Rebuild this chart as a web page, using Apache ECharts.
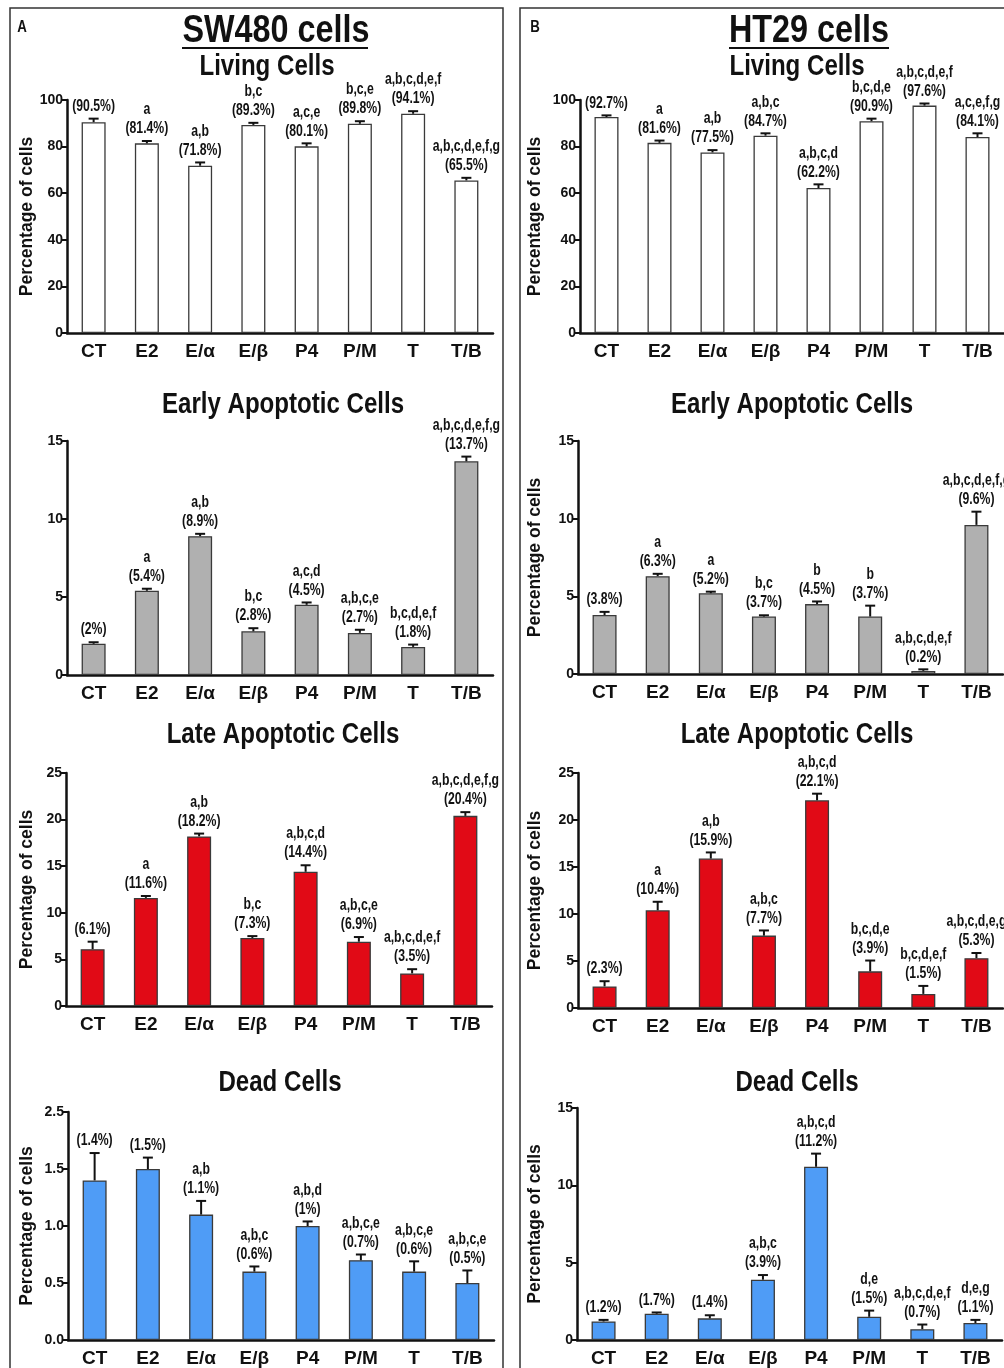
<!DOCTYPE html>
<html><head><meta charset="utf-8">
<script src="https://cdn.jsdelivr.net/npm/echarts@6/dist/echarts.min.js"></script>
<style>html,body{margin:0;padding:0;background:#fff}#c{width:1004px;height:1368px}</style>
</head><body><div id="c"></div>
<script>
const categories = ['CT', 'E2', 'E/α', 'E/β', 'P4', 'P/M', 'T', 'T/B'];

// Panel A: SW480 cells
const swLivingMean = [90.5, 81.4, 71.8, 89.3, 80.1, 89.8, 94.1, 65.5];
const swLivingErr  = [1.5, 1.0, 1.4, 0.9, 1.3, 1.1, 1.1, 1.1];
const swLivingSig  = ['', 'a', 'a,b', 'b,c', 'a,c,e', 'b,c,e', 'a,b,c,d,e,f', 'a,b,c,d,e,f,g'];

const swEarlyMean = [2, 5.4, 8.9, 2.8, 4.5, 2.7, 1.8, 13.7];
const swEarlyErr  = [0.1, 0.13, 0.15, 0.2, 0.15, 0.2, 0.15, 0.3];
const swEarlySig  = ['', 'a', 'a,b', 'b,c', 'a,c,d', 'a,b,c,e', 'b,c,d,e,f', 'a,b,c,d,e,f,g'];

const swLateMean = [6.1, 11.6, 18.2, 7.3, 14.4, 6.9, 3.5, 20.4];
const swLateErr  = [0.8, 0.2, 0.3, 0.2, 0.7, 0.5, 0.45, 0.4];
const swLateSig  = ['', 'a', 'a,b', 'b,c', 'a,b,c,d', 'a,b,c,e', 'a,b,c,d,e,f', 'a,b,c,d,e,f,g'];

const swDeadMean = [1.4, 1.5, 1.1, 0.6, 1.0, 0.7, 0.6, 0.5];
const swDeadErr  = [0.24, 0.1, 0.12, 0.045, 0.04, 0.05, 0.09, 0.11];
const swDeadSig  = ['', '', 'a,b', 'a,b,c', 'a,b,d', 'a,b,c,e', 'a,b,c,e', 'a,b,c,e'];

// Panel B: HT29 cells
const htLivingMean = [92.7, 81.6, 77.5, 84.7, 62.2, 90.9, 97.6, 84.1];
const htLivingErr  = [0.7, 1.0, 1.0, 1.0, 1.6, 1.1, 0.9, 1.6];
const htLivingSig  = ['', 'a', 'a,b', 'a,b,c', 'a,b,c,d', 'b,c,d,e', 'a,b,c,d,e,f', 'a,c,e,f,g'];

const htEarlyMean = [3.8, 6.3, 5.2, 3.7, 4.5, 3.7, 0.2, 9.6];
const htEarlyErr  = [0.2, 0.15, 0.1, 0.08, 0.17, 0.7, 0.1, 0.85];
const htEarlySig  = ['', 'a', 'a', 'b,c', 'b', 'b', 'a,b,c,d,e,f', 'a,b,c,d,e,f,g'];

const htLateMean = [2.3, 10.4, 15.9, 7.7, 22.1, 3.9, 1.5, 5.3];
const htLateErr  = [0.55, 0.9, 0.65, 0.55, 0.7, 1.15, 0.85, 0.55];
const htLateSig  = ['', 'a', 'a,b', 'a,b,c', 'a,b,c,d', 'b,c,d,e', 'b,c,d,e,f', 'a,b,c,d,e,g'];

const htDeadMean = [1.2, 1.7, 1.4, 3.9, 11.2, 1.5, 0.7, 1.1];
const htDeadErr  = [0.1, 0.08, 0.2, 0.3, 0.85, 0.4, 0.3, 0.2];
const htDeadSig  = ['', '', '', 'a,b,c', 'a,b,c,d', 'd,e', 'a,b,c,d,e,f', 'd,e,g'];

// Tick labels
const livingTicks = ['0', '20', '40', '60', '80', '100'];
const fifteenTicks = ['0', '5', '10', '15'];
const lateTicks = ['0', '5', '10', '15', '20', '25'];
const swDeadTicks = ['0.0', '0.5', '1.0', '1.5', '2.5'];

const FONT = '"Liberation Sans", Arial, Helvetica, sans-serif';
const INK = '#111';
const SQUEEZE = 0.83;
const NOTE_SQUEEZE = 0.72;

const panels = [
  {mean: swLivingMean, err: swLivingErr, sig: swLivingSig, ticks: livingTicks, max: 100, interval: 20,
   color: '#ffffff', grid: {left: 67, top: 100, width: 426, height: 233}, name: 'Percentage of cells', gap: 31},
  {mean: swEarlyMean, err: swEarlyErr, sig: swEarlySig, ticks: fifteenTicks, max: 15, interval: 5,
   color: '#b0b0b0', grid: {left: 67, top: 441, width: 426, height: 234}, name: '', gap: 31},
  {mean: swLateMean, err: swLateErr, sig: swLateSig, ticks: lateTicks, max: 25, interval: 5,
   color: '#e10a16', grid: {left: 66, top: 773, width: 426, height: 233}, name: 'Percentage of cells', gap: 30},
  {mean: swDeadMean, err: swDeadErr, sig: swDeadSig, ticks: swDeadTicks, max: 2, interval: 0.5,
   color: '#4f9cf6', grid: {left: 68, top: 1112, width: 426, height: 232}, name: 'Percentage of cells', gap: 32},
  {mean: htLivingMean, err: htLivingErr, sig: htLivingSig, ticks: livingTicks, max: 100, interval: 20,
   color: '#ffffff', grid: {left: 580, top: 100, width: 425, height: 233}, name: 'Percentage of cells', gap: 36},
  {mean: htEarlyMean, err: htEarlyErr, sig: htEarlySig, ticks: fifteenTicks, max: 15, interval: 5,
   color: '#b0b0b0', grid: {left: 578, top: 441, width: 425, height: 233}, name: 'Percentage of cells', gap: 34},
  {mean: htLateMean, err: htLateErr, sig: htLateSig, ticks: lateTicks, max: 25, interval: 5,
   color: '#e10a16', grid: {left: 578, top: 773, width: 425, height: 235}, name: 'Percentage of cells', gap: 34},
  {mean: htDeadMean, err: htDeadErr, sig: htDeadSig, ticks: fifteenTicks, max: 15, interval: 5,
   color: '#4f9cf6', grid: {left: 577, top: 1108, width: 425, height: 235}, name: 'Percentage of cells', gap: 33}
];

function makeRender(p) {
  return function (params, api) {
    const i = api.value(0), m = api.value(1), e = api.value(2);
    const base = api.coord([i, m]);
    const top = api.coord([i, m + e]);
    const cap = 5;
    const sig = p.sig[params.dataIndex];
    const txt = (sig ? sig + '\n' : '') + '(' + p.mean[params.dataIndex] + '%)';
    return {type: 'group', children: [
      {type: 'line', shape: {x1: base[0], y1: base[1], x2: top[0], y2: top[1]}, style: {stroke: INK, lineWidth: 2}},
      {type: 'line', shape: {x1: top[0] - cap, y1: top[1], x2: top[0] + cap, y2: top[1]}, style: {stroke: INK, lineWidth: 2}},
      {type: 'text', x: top[0], y: top[1] - 3, scaleX: NOTE_SQUEEZE,
       style: {text: txt, font: 'bold 17px ' + FONT, fill: INK,
        textAlign: 'center', textVerticalAlign: 'bottom', align: 'center', verticalAlign: 'bottom', lineHeight: 19}}
    ]};
  };
}

const grid = [], xAxis = [], yAxis = [], series = [];
panels.forEach((p, k) => {
  grid.push(Object.assign({containLabel: false}, p.grid));
  xAxis.push({type: 'category', gridIndex: k, data: categories,
    axisLine: {lineStyle: {color: INK, width: 2.5}}, axisTick: {show: false},
    axisLabel: {color: INK, fontFamily: FONT, fontWeight: 'bold', fontSize: 19, margin: 9, interval: 0}});
  yAxis.push({type: 'value', gridIndex: k, min: 0, max: p.max, interval: p.interval,
    splitLine: {show: false},
    axisLine: {show: true, lineStyle: {color: INK, width: 2.5}},
    axisTick: {show: true, length: 5, lineStyle: {color: INK, width: 2}},
    axisLabel: {color: INK, fontFamily: FONT, fontWeight: 'bold', fontSize: 14, margin: 4,
      formatter: (v, idx) => p.ticks[idx]},
    name: p.name, nameLocation: 'middle', nameGap: p.gap, nameRotate: 90,
    nameTextStyle: {color: INK, fontFamily: FONT, fontWeight: 'bold', fontSize: 17.5}});
  series.push({type: 'bar', xAxisIndex: k, yAxisIndex: k, data: p.mean, barWidth: 24, silent: true,
    itemStyle: {color: p.color, borderColor: '#3a3a3a', borderWidth: 1.3}});
  series.push({type: 'custom', xAxisIndex: k, yAxisIndex: k, clip: false, silent: true, z: 5,
    encode: {x: 0, y: 1},
    data: p.mean.map((m, i) => [i, m, p.err[i]]), renderItem: makeRender(p)});
});

function label(text, x, y, size) {
  return {type: 'text', x: x, y: y, scaleX: SQUEEZE,
    style: {text: text, font: 'bold ' + size + 'px ' + FONT, fill: INK,
    textAlign: 'center', textVerticalAlign: 'middle', align: 'center', verticalAlign: 'middle'}};
}

const graphic = [
  {type: 'rect', shape: {x: 10, y: 8, width: 493, height: 1400}, style: {fill: 'none', stroke: '#333', lineWidth: 1.5}},
  {type: 'rect', shape: {x: 520, y: 8, width: 500, height: 1400}, style: {fill: 'none', stroke: '#333', lineWidth: 1.5}},
  label('A', 22, 28, 16),
  label('B', 535, 28, 16),
  label('SW480 cells', 276, 31, 39),
  label('HT29 cells', 809, 31, 39),
  {type: 'line', shape: {x1: 182, y1: 48, x2: 368, y2: 48}, style: {stroke: INK, lineWidth: 2}},
  {type: 'line', shape: {x1: 729, y1: 48, x2: 889, y2: 48}, style: {stroke: INK, lineWidth: 2}},
  label('Living Cells', 267, 67, 29),
  label('Early Apoptotic Cells', 283, 405, 29),
  label('Late Apoptotic Cells', 283, 735, 29),
  label('Dead Cells', 280, 1083, 29),
  label('Living Cells', 797, 67, 29),
  label('Early Apoptotic Cells', 792, 405, 29),
  label('Late Apoptotic Cells', 797, 735, 29),
  label('Dead Cells', 797, 1083, 29)
];

const chart = echarts.init(document.getElementById('c'), null, {renderer: 'canvas'});
chart.setOption({animation: false, backgroundColor: '#fff', grid, xAxis, yAxis, series, graphic});
</script></body></html>
